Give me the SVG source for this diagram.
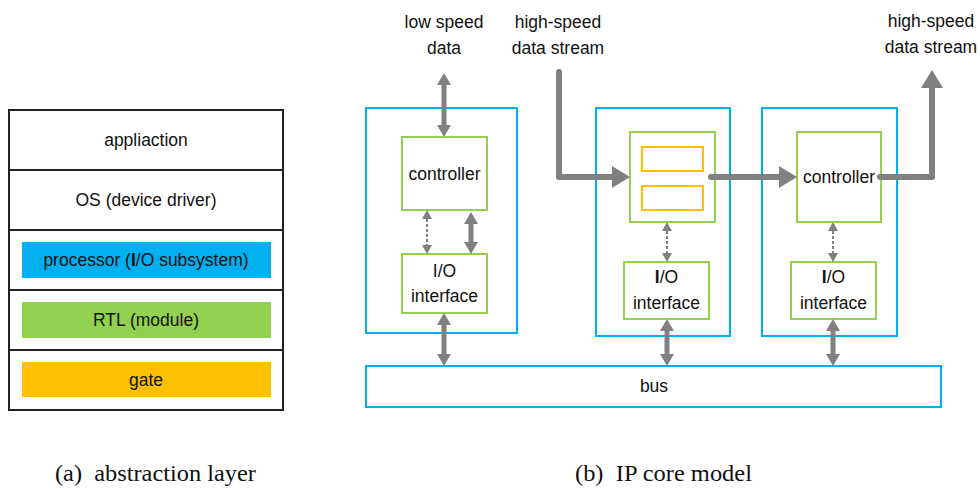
<svg xmlns="http://www.w3.org/2000/svg" width="980" height="489" viewBox="0 0 980 489">
  <style>
    .sans { font-family: "Liberation Sans", Arial, sans-serif; font-size: 17.5px; fill: #111; text-anchor: middle; }
    .serif { font-family: "Liberation Serif", "Times New Roman", serif; font-size: 23.5px; fill: #111; }
    .layer { fill: #fff; stroke: #222; stroke-width: 2; }
    .core { fill: #fff; stroke: #00B0F0; stroke-width: 2; }
    .blk { fill: #fff; stroke: #92D050; stroke-width: 2; }
    .reg { fill: #fff; stroke: #FFC000; stroke-width: 2; }
    .thick { stroke: #808080; stroke-width: 5; fill: none; }
    .flow { stroke: #808080; stroke-width: 6; fill: none; stroke-linejoin: round; stroke-linecap: round; }
    .dot { stroke: #808080; stroke-width: 2; stroke-dasharray: 3 2; fill: none; }
  </style>
  <defs>
    <marker id="head" markerUnits="userSpaceOnUse" viewBox="0 0 12 14" refX="0" refY="7" markerWidth="12" markerHeight="14" orient="auto-start-reverse">
      <path d="M0,0 L12,7 L0,14 z" fill="#808080"/>
    </marker>
    <marker id="headS" markerUnits="userSpaceOnUse" viewBox="0 0 9 10" refX="0" refY="5" markerWidth="9" markerHeight="10" orient="auto-start-reverse">
      <path d="M0,0 L9,5 L0,10 z" fill="#808080"/>
    </marker>
    <marker id="headL" markerUnits="userSpaceOnUse" viewBox="0 0 18 22" refX="0" refY="11" markerWidth="18" markerHeight="22" orient="auto">
      <path d="M0,0 L18,11 L0,22 z" fill="#808080"/>
    </marker>
  </defs>

  <!-- (a) abstraction layer stack -->
  <g id="stack">
    <rect class="layer" x="9" y="110" width="274" height="300"/>
    <line x1="9" y1="170" x2="283" y2="170" stroke="#222" stroke-width="2"/>
    <line x1="9" y1="230" x2="283" y2="230" stroke="#222" stroke-width="2"/>
    <line x1="9" y1="290" x2="283" y2="290" stroke="#222" stroke-width="2"/>
    <line x1="9" y1="350" x2="283" y2="350" stroke="#222" stroke-width="2"/>
  </g>
  <g id="layer-app">
    <text class="sans" x="146" y="146">appliaction</text>
  </g>
  <g id="layer-os">
    <text class="sans" x="146" y="206">OS (device driver)</text>
  </g>
  <g id="layer-processor">
    <rect x="22" y="242" width="249" height="36" fill="#00B0F0"/>
    <text class="sans" x="146" y="266">processor (<tspan font-weight="bold">I</tspan>/O subsystem)</text>
  </g>
  <g id="layer-rtl">
    <rect x="22" y="302" width="249" height="36" fill="#92D050"/>
    <text class="sans" x="146" y="326">RTL (module)</text>
  </g>
  <g id="layer-gate">
    <rect x="22" y="362" width="249" height="35" fill="#FFC000"/>
    <text class="sans" x="146" y="386">gate</text>
  </g>

  <!-- (b) IP core model -->
  <g id="core1">
    <rect class="core" x="366" y="108" width="151" height="225"/>
  </g>
  <g id="core1-controller">
    <rect class="blk" x="402" y="137" width="85" height="73"/>
    <text class="sans" x="444.5" y="180">controller</text>
  </g>
  <g id="core1-io">
    <rect class="blk" x="402" y="254" width="85" height="59"/>
    <text class="sans" x="444.5" y="277">I/O</text>
    <text class="sans" x="444.5" y="302">interface</text>
  </g>

  <g id="core2">
    <rect class="core" x="596" y="108" width="134" height="228"/>
  </g>
  <g id="core2-buffer">
    <rect class="blk" x="630" y="132" width="85" height="90"/>
    <rect class="reg" x="642" y="147" width="61" height="24"/>
    <rect class="reg" x="642" y="186" width="61" height="24"/>
  </g>
  <g id="core2-io">
    <rect class="blk" x="624" y="262" width="85" height="57"/>
    <text class="sans" x="666.5" y="283"><tspan font-weight="bold">I</tspan>/O</text>
    <text class="sans" x="666.5" y="309">interface</text>
  </g>

  <g id="core3">
    <rect class="core" x="762" y="108" width="135" height="228"/>
  </g>
  <g id="core3-controller">
    <rect class="blk" x="797" y="132" width="84" height="90"/>
    <text class="sans" x="839" y="183">controller</text>
  </g>
  <g id="core3-io">
    <rect class="blk" x="791" y="262" width="85" height="57"/>
    <text class="sans" x="833.5" y="283"><tspan font-weight="bold">I</tspan>/O</text>
    <text class="sans" x="833.5" y="309">interface</text>
  </g>

  <g id="bus">
    <rect class="core" x="366" y="366" width="575" height="41"/>
    <text class="sans" x="654" y="392">bus</text>
  </g>

  <g id="labels">
    <text class="sans" x="444" y="28">low speed</text>
    <text class="sans" x="444" y="54">data</text>
    <text class="sans" x="558" y="28">high-speed</text>
    <text class="sans" x="558" y="54">data stream</text>
    <text class="sans" x="931" y="27">high-speed</text>
    <text class="sans" x="931" y="53">data stream</text>
  </g>

  <g id="connectors">
    <!-- core 1 -->
    <line class="thick" x1="444" y1="85" x2="444" y2="125" marker-start="url(#head)" marker-end="url(#head)"/>
    <line class="dot" x1="427" y1="219" x2="427" y2="245" marker-start="url(#headS)" marker-end="url(#headS)"/>
    <line class="thick" x1="471" y1="224" x2="471" y2="242" marker-start="url(#head)" marker-end="url(#head)"/>
    <line class="thick" x1="444" y1="325" x2="444" y2="354" marker-start="url(#head)" marker-end="url(#head)"/>
    <!-- core 2 -->
    <line class="dot" x1="667" y1="231" x2="667" y2="253" marker-start="url(#headS)" marker-end="url(#headS)"/>
    <line class="thick" x1="667" y1="331" x2="667" y2="354" marker-start="url(#head)" marker-end="url(#head)"/>
    <!-- core 3 -->
    <line class="dot" x1="833" y1="231" x2="833" y2="253" marker-start="url(#headS)" marker-end="url(#headS)"/>
    <line class="thick" x1="833" y1="331" x2="833" y2="354" marker-start="url(#head)" marker-end="url(#head)"/>
    <!-- high-speed data path -->
    <path class="flow" d="M559,72 L559,177 L612,177" stroke-linecap="butt" marker-end="url(#headL)"/>
    <path class="flow" d="M711,177 L779,177" marker-end="url(#headL)"/>
    <path class="flow" d="M880,177 L932,177 L932,88" marker-end="url(#headL)"/>
  </g>

  <g id="captions">
    <text class="serif" x="55" y="481" xml:space="preserve" textLength="201" lengthAdjust="spacingAndGlyphs">(a)  abstraction layer</text>
    <text class="serif" x="575" y="481" xml:space="preserve" textLength="177" lengthAdjust="spacingAndGlyphs">(b)  IP core model</text>
  </g>
</svg>
